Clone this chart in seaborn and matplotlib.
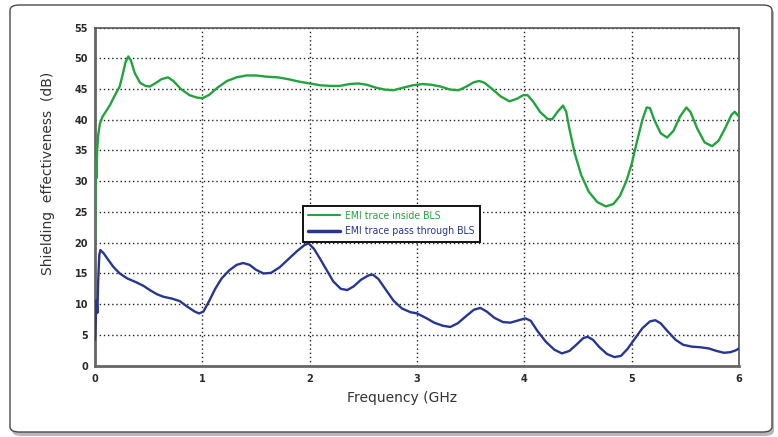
import numpy as np
import pandas as pd
import seaborn as sns
import matplotlib.pyplot as plt
from matplotlib.patches import FancyBboxPatch

# Shielding effectiveness traces (frequency in GHz, value in dB)
inside_freq = [0.000, 0.004, 0.008, 0.014, 0.020, 0.030, 0.045, 0.070, 0.100, 0.140,
               0.180, 0.230, 0.260, 0.285, 0.310, 0.335, 0.370, 0.420, 0.470, 0.510,
               0.560, 0.620, 0.680, 0.730, 0.800, 0.880, 0.950, 1.000, 1.060, 1.140,
               1.230, 1.320, 1.410, 1.500, 1.600, 1.700, 1.800, 1.900, 2.000, 2.100,
               2.200, 2.280, 2.370, 2.450, 2.530, 2.620, 2.700, 2.780, 2.870, 2.960,
               3.050, 3.130, 3.220, 3.310, 3.390, 3.460, 3.530, 3.580, 3.630, 3.700,
               3.780, 3.860, 3.930, 3.990, 4.030, 4.080, 4.150, 4.220, 4.260, 4.310,
               4.360, 4.390, 4.420, 4.470, 4.530, 4.600, 4.680, 4.760, 4.830, 4.890,
               4.950, 5.000, 5.050, 5.100, 5.140, 5.170, 5.210, 5.270, 5.330, 5.390,
               5.450, 5.510, 5.550, 5.610, 5.680, 5.750, 5.810, 5.870, 5.930, 5.960,
               6.000]
inside_db = [20.5, 27.0, 33.5, 30.5, 35.0, 37.5, 39.3, 40.5, 41.3, 42.4,
             43.8, 45.4, 47.5, 49.4, 50.3, 49.6, 47.6, 46.0, 45.5, 45.4,
             45.9, 46.6, 46.9, 46.3, 45.0, 44.0, 43.6, 43.5, 44.0, 45.2,
             46.3, 46.9, 47.2, 47.2, 47.0, 46.9, 46.6, 46.2, 45.9, 45.6,
             45.5, 45.5, 45.8, 45.9, 45.7, 45.2, 44.9, 44.8, 45.2, 45.6,
             45.8, 45.7, 45.4, 44.9, 44.8, 45.4, 46.1, 46.3, 46.0, 45.0,
             43.8, 43.0, 43.4, 44.0, 44.0, 43.0, 41.2, 40.1, 40.1, 41.3,
             42.3, 41.3, 38.5, 34.5, 31.0, 28.3, 26.6, 25.9, 26.3, 27.6,
             30.0, 32.8, 36.5, 40.0, 42.0, 41.9, 40.0, 37.8, 37.1, 38.2,
             40.5, 42.0, 41.2, 38.6, 36.3, 35.7, 36.6, 38.6, 40.8, 41.3,
             40.5]

through_freq = [0.000, 0.008, 0.015, 0.022, 0.030, 0.040, 0.050, 0.080, 0.120, 0.170,
                0.230, 0.300, 0.380, 0.450, 0.520, 0.580, 0.640, 0.720, 0.790, 0.860,
                0.930, 0.970, 1.010, 1.060, 1.120, 1.180, 1.250, 1.320, 1.380, 1.440,
                1.500, 1.570, 1.640, 1.720, 1.800, 1.880, 1.950, 1.990, 2.040, 2.100,
                2.160, 2.220, 2.290, 2.350, 2.410, 2.480, 2.550, 2.590, 2.640, 2.700,
                2.780, 2.860, 2.940, 3.000, 3.080, 3.160, 3.240, 3.310, 3.380, 3.460,
                3.530, 3.590, 3.650, 3.720, 3.800, 3.870, 3.950, 4.010, 4.060, 4.120,
                4.200, 4.280, 4.350, 4.420, 4.490, 4.550, 4.590, 4.640, 4.700, 4.770,
                4.840, 4.900, 4.960, 5.030, 5.100, 5.170, 5.220, 5.270, 5.340, 5.410,
                5.480, 5.560, 5.640, 5.720, 5.790, 5.860, 5.920, 5.970, 6.000]
through_db = [4.2, 8.0, 10.7, 8.6, 14.0, 18.0, 18.8, 18.3, 17.3, 16.1,
              15.0, 14.2, 13.6, 13.0, 12.2, 11.6, 11.2, 10.9, 10.5, 9.6,
              8.8, 8.5, 8.8, 10.4, 12.5, 14.2, 15.5, 16.4, 16.7, 16.4,
              15.6, 15.0, 15.1, 16.0, 17.3, 18.6, 19.6, 19.9, 19.0, 17.3,
              15.5, 13.7, 12.5, 12.3, 12.9, 14.0, 14.7, 14.8, 14.1, 12.6,
              10.6, 9.3, 8.7, 8.5, 7.8, 7.0, 6.5, 6.3, 6.9, 8.1,
              9.1, 9.4, 8.8, 7.8, 7.1, 7.0, 7.4, 7.7, 7.3, 5.7,
              3.9, 2.6, 2.0, 2.4, 3.5, 4.5, 4.7, 4.2, 3.0, 1.9,
              1.4, 1.6, 2.7, 4.4, 6.1, 7.2, 7.4, 6.9, 5.5, 4.2,
              3.4, 3.1, 3.0, 2.8, 2.4, 2.1, 2.2, 2.5, 2.8]

series_names = ["EMI trace inside BLS", "EMI trace pass through BLS"]
series_colors = ["#23a33d", "#27378f"]

x_ticks = [0, 1, 2, 3, 4, 5, 6]
y_ticks = [0, 5, 10, 15, 20, 25, 30, 35, 40, 45, 50, 55]

df = pd.concat([
    pd.DataFrame({"freq": inside_freq, "se": inside_db, "trace": series_names[0]}),
    pd.DataFrame({"freq": through_freq, "se": through_db, "trace": series_names[1]}),
], ignore_index=True)

sns.set_theme(style="white")
plt.rcParams["font.family"] = ["DejaVu Sans"]

fig = plt.figure(figsize=(7.78, 4.37), dpi=100)
fig.patch.set_facecolor("white")

# rounded outer frame with a soft shadow, kept behind the axes
shadow = FancyBboxPatch((12 / 778, 1 - 436 / 437), 762 / 778, 428 / 437,
                        boxstyle="round,pad=0,rounding_size=0.012",
                        transform=fig.transFigure, facecolor="#8a8a8a",
                        edgecolor="none", alpha=0.6, zorder=-3)
frame = FancyBboxPatch((10 / 778, 1 - 432 / 437), 762 / 778, 427 / 437,
                       boxstyle="round,pad=0,rounding_size=0.012",
                       transform=fig.transFigure, facecolor="white",
                       edgecolor="#4a4a4a", linewidth=1.0, zorder=-2)
fig.patches.extend([shadow, frame])

ax = fig.add_axes([95 / 778, 1 - 365.7 / 437, 644 / 778, 338.2 / 437])
ax.set_zorder(2)
ax.set_facecolor("white")

sns.lineplot(data=df, x="freq", y="se", hue="trace", hue_order=series_names,
             palette=series_colors, sort=False, estimator=None, linewidth=1.7,
             ax=ax, legend=False, zorder=3)

ax.set_xlim(0, 6)
ax.set_ylim(0, 55)
ax.set_xticks(x_ticks)
ax.set_yticks(y_ticks)
ax.set_xticklabels([str(v) for v in x_ticks], fontweight="bold")
ax.set_yticklabels([str(v) for v in y_ticks], fontweight="bold")
ax.tick_params(axis="both", length=0, labelsize=7, labelcolor="#2a2a2a")
ax.tick_params(axis="x", pad=6)
ax.tick_params(axis="y", pad=5)

ax.grid(True, color="#222222", linestyle=(0, (1, 2)), linewidth=1.0)
ax.set_axisbelow(True)

for side in ["top", "right"]:
    ax.spines[side].set_color("#555555")
    ax.spines[side].set_linewidth(1.2)
for side in ["left", "bottom"]:
    ax.spines[side].set_color("#666666")
    ax.spines[side].set_linewidth(2.0)

ax.set_xlabel("Frequency (GHz", fontsize=10, color="#333333")
ax.set_ylabel("Shielding  effectiveness  (dB)", fontsize=10, color="#333333")
ax.xaxis.set_label_coords(0.477, -0.075)
ax.yaxis.set_label_coords(-0.062, 0.57)

handles = [plt.Line2D([], [], color=series_colors[0], linewidth=1.5),
           plt.Line2D([], [], color=series_colors[1], linewidth=2.5)]
leg = ax.legend(handles, series_names, loc="upper left",
                bbox_to_anchor=(0.323, 0.4725), borderaxespad=0.0,
                frameon=True, fancybox=False,
                edgecolor="#111111", framealpha=1.0,
                handlelength=3.0, handletextpad=0.5, borderpad=0.5,
                labelspacing=0.5,
                prop={"family": ["DejaVu Sans"], "stretch": "condensed", "size": 7.6})
leg.get_frame().set_linewidth(1.4)
leg.set_zorder(5)
for txt, col in zip(leg.get_texts(), series_colors):
    txt.set_color(col)

fig.savefig("out.png", dpi=100)
